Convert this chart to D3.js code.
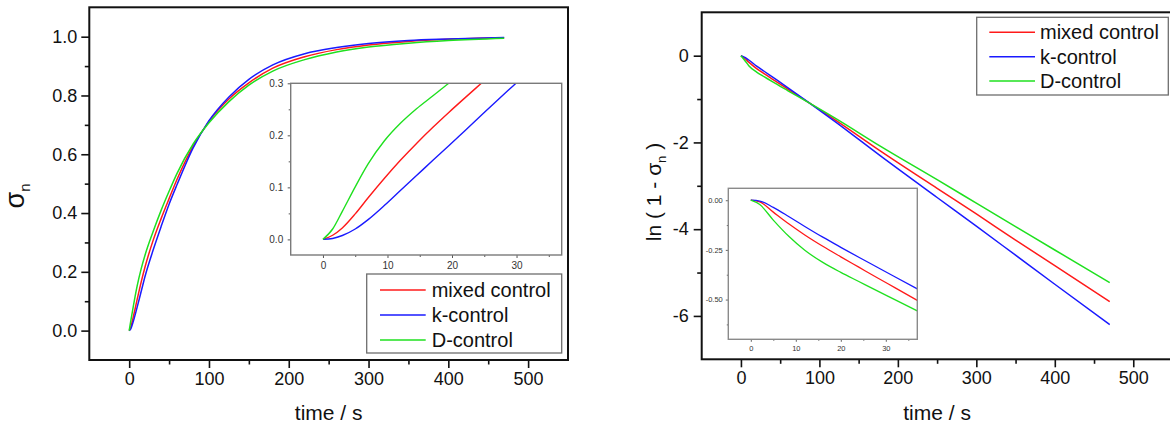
<!DOCTYPE html>
<html>
<head>
<meta charset="utf-8">
<script src="https://cdn.jsdelivr.net/npm/d3@7"></script>
<style>
  html, body { margin: 0; padding: 0; background: #fff; }
  svg { display: block; }
</style>
</head>
<body>
<svg id="chart" width="1170" height="425"></svg>
<script>
// ---- main curves: degree of conversion sigma_n versus time (s) ----
const mainTime   = [0, 2, 5, 10, 15, 20, 30, 40, 50, 60, 80, 100, 125, 150, 180, 220, 260, 300, 350, 400, 470];
const sigmaMixed = [0, 0.012, 0.045, 0.106, 0.165, 0.218, 0.307, 0.381, 0.449, 0.515, 0.627, 0.712, 0.788, 0.843, 0.893, 0.932, 0.956, 0.972, 0.984, 0.991, 0.996];
const sigmaK     = [0, 0.006, 0.03, 0.08, 0.133, 0.186, 0.274, 0.354, 0.43, 0.497, 0.621, 0.714, 0.795, 0.855, 0.904, 0.942, 0.963, 0.977, 0.987, 0.992, 0.997];
const sigmaD     = [0, 0.033, 0.08, 0.152, 0.21, 0.258, 0.337, 0.409, 0.474, 0.535, 0.634, 0.707, 0.779, 0.835, 0.883, 0.922, 0.948, 0.965, 0.978, 0.987, 0.995];

// ---- main curves: ln(1 - sigma_n) versus time (s) ----
const lnTime  = [0, 5, 10, 20, 30, 40, 60, 88, 120, 177, 250, 300, 350, 400, 470];
const lnMixed = [0, -0.065, -0.15, -0.3, -0.42, -0.54, -0.775, -1.1, -1.48, -2.19, -3.06, -3.65, -4.25, -4.84, -5.67];
const lnK     = [0, -0.038, -0.1, -0.239, -0.365, -0.49, -0.74, -1.1, -1.52, -2.30, -3.27, -3.93, -4.60, -5.27, -6.20];
const lnD     = [0, -0.11, -0.23, -0.38, -0.49, -0.6, -0.81, -1.1, -1.44, -2.08, -2.86, -3.40, -3.94, -4.48, -5.23];

// ---- early-time detail, sigma_n ----
const insetTime        = [0, 1.5, 3, 5, 7, 9.5, 12, 14.5, 17, 19.5, 22, 24.5, 27, 29.5, 32];
const insetSigmaMixed  = [0, 0.008, 0.022, 0.049, 0.080, 0.117, 0.152, 0.1845, 0.215, 0.244, 0.272, 0.2995, 0.327, null, null];
const insetSigmaK      = [0, 0.0018, 0.0075, 0.02, 0.038, 0.065, 0.094, 0.1227, 0.1515, 0.180, 0.209, 0.238, 0.267, 0.2955, 0.324];
const insetSigmaD      = [0, 0.02, 0.054, 0.101, 0.145, 0.189, 0.223, 0.251, 0.2755, 0.30, 0.3235, null, null, null, null];

// ---- early-time detail, ln(1 - sigma_n) ----
const insetLnTime  = [0, 2, 5, 8.5, 12, 16, 20, 24, 28, 32, 37];
const insetLnMixed = [0, -0.008, -0.06, -0.12, -0.175, -0.232, -0.285, -0.337, -0.389, -0.44, -0.504];
const insetLnK     = [0, -0.004, -0.036, -0.083, -0.132, -0.186, -0.237, -0.287, -0.336, -0.385, -0.446];
const insetLnD     = [0, -0.022, -0.10, -0.183, -0.252, -0.313, -0.363, -0.409, -0.455, -0.50, -0.557];

// ---- series names and tick labels ----
const seriesNames  = ["mixed control", "k-control", "D-control"];
const seriesColors = ["#ff1a1a", "#1a1aff", "#1fe01f"];

const timeTicks       = [0, 100, 200, 300, 400, 500];
const timeTickLabels  = ["0", "100", "200", "300", "400", "500"];
const timeMinor       = [50, 150, 250, 350, 450];
const sigmaTicks      = [0, 0.2, 0.4, 0.6, 0.8, 1.0];
const sigmaTickLabels = ["0.0", "0.2", "0.4", "0.6", "0.8", "1.0"];
const sigmaMinor      = [0.1, 0.3, 0.5, 0.7, 0.9];
const lnTicks         = [0, -2, -4, -6];
const lnTickLabels    = ["0", "-2", "-4", "-6"];
const lnMinor         = [-1, -3, -5];

const insetTimeTicks      = [0, 10, 20, 30];
const insetTimeLabels     = ["0", "10", "20", "30"];
const insetTimeMinor      = [5, 15, 25, 35];
const insetSigmaTicks     = [0, 0.1, 0.2, 0.3];
const insetSigmaLabels    = ["0.0", "0.1", "0.2", "0.3"];
const insetSigmaMinor     = [0.05, 0.15, 0.25];
const insetLnTicks        = [0, -0.25, -0.5];
const insetLnLabels       = ["0.00", "-0.25", "-0.50"];
const insetLnMinor        = [-0.125, -0.375, -0.625];

const FONT = "'Liberation Sans', Arial, Helvetica, sans-serif";
const svg = d3.select("#chart");

// Draws a pair of bottom/left axes with major+minor ticks.
function drawAxes(g, x, y, o) {
  const bottom = y.range()[0];
  const left = x.range()[0];
  const xa = g.append("g").attr("transform", `translate(0,${bottom})`)
    .call(d3.axisBottom(x).tickValues(o.xTicks).tickFormat((d, i) => o.xLabels[i])
      .tickSize(o.major).tickSizeOuter(0).tickPadding(o.xPad));
  const xm = g.append("g").attr("transform", `translate(0,${bottom})`)
    .call(d3.axisBottom(x).tickValues(o.xMinor).tickFormat("").tickSize(o.minor).tickSizeOuter(0));
  const ya = g.append("g").attr("transform", `translate(${left},0)`)
    .call(d3.axisLeft(y).tickValues(o.yTicks).tickFormat((d, i) => o.yLabels[i])
      .tickSize(o.major).tickSizeOuter(0).tickPadding(o.yPad));
  const ym = g.append("g").attr("transform", `translate(${left},0)`)
    .call(d3.axisLeft(y).tickValues(o.yMinor).tickFormat("").tickSize(o.minor).tickSizeOuter(0));
  [xa, xm, ya, ym].forEach(a => {
    a.select(".domain").remove();
    a.attr("font-family", FONT).attr("font-size", o.fontSize);
    a.selectAll("line").attr("stroke", o.stroke).attr("stroke-width", o.tickWidth);
    a.selectAll("text").attr("fill", o.textColor);
  });
}

function frame(g, x, y, stroke, width, fill) {
  const [x0, x1] = x.range();
  const [y0, y1] = y.range();
  g.append("rect")
    .attr("x", x0).attr("y", y1).attr("width", x1 - x0).attr("height", y0 - y1)
    .attr("fill", fill || "none").attr("stroke", stroke).attr("stroke-width", width);
}

function drawSeries(g, x, y, t, seriesList, clipId, width) {
  const line = d3.line()
    .defined(d => d[1] !== null)
    .x(d => x(d[0])).y(d => y(d[1]))
    .curve(d3.curveMonotoneX);
  const layer = g.append("g").attr("clip-path", clipId ? `url(#${clipId})` : null);
  seriesList.forEach((vals, i) => {
    layer.append("path")
      .datum(t.map((tt, j) => [tt, vals[j]]))
      .attr("d", line)
      .attr("fill", "none")
      .attr("stroke", seriesColors[i])
      .attr("stroke-width", width)
      .attr("stroke-linejoin", "round");
  });
}

function addClip(id, x, y) {
  const [x0, x1] = x.range();
  const [y0, y1] = y.range();
  svg.append("defs").append("clipPath").attr("id", id)
    .append("rect").attr("x", x0).attr("y", y1).attr("width", x1 - x0).attr("height", y0 - y1);
}

function drawLegend(g, box, lineX0, lineX1, textX, rows) {
  g.append("rect").attr("x", box[0]).attr("y", box[1]).attr("width", box[2]).attr("height", box[3])
    .attr("fill", "#fff").attr("stroke", "#6e6e6e").attr("stroke-width", 1.3);
  seriesNames.forEach((name, i) => {
    g.append("line").attr("x1", lineX0).attr("x2", lineX1).attr("y1", rows[i]).attr("y2", rows[i])
      .attr("stroke", seriesColors[i]).attr("stroke-width", 1.5);
    g.append("text").attr("x", textX).attr("y", rows[i]).attr("dy", "0.35em")
      .attr("font-family", FONT).attr("font-size", 20).attr("fill", "#111").text(name);
  });
}

const mainAxisStyle = { major: 8, minor: 4.5, xPad: 4, yPad: 4, fontSize: 18, stroke: "#111", tickWidth: 1.6, textColor: "#111" };

// ================= left panel: sigma_n =================
{
  const g = svg.append("g");
  const x = d3.scaleLinear().domain([-50, 550]).range([89.3, 568]);
  const y = d3.scaleLinear().domain([-0.1, 1.1]).range([360, 7.3]);
  addClip("clipL", x, y);
  drawAxes(g, x, y, Object.assign({}, mainAxisStyle, {
    xTicks: timeTicks, xLabels: timeTickLabels, xMinor: timeMinor,
    yTicks: sigmaTicks, yLabels: sigmaTickLabels, yMinor: sigmaMinor
  }));
  drawSeries(g, x, y, mainTime, [sigmaMixed, sigmaK, sigmaD], "clipL", 1.5);
  frame(g, x, y, "#111", 2);

  // inset: early times
  const xi = d3.scaleLinear().domain([-5, 37]).range([290.7, 561.7]);
  const yi = d3.scaleLinear().domain([-0.03, 0.3]).range([255, 83.3]);
  addClip("clipLi", xi, yi);
  frame(g, xi, yi, "none", 0, "#fff");
  drawAxes(g, xi, yi, {
    major: 3, minor: 2, xPad: 4, yPad: 4.5, fontSize: 10, stroke: "#555", tickWidth: 1, textColor: "#333",
    xTicks: insetTimeTicks, xLabels: insetTimeLabels, xMinor: insetTimeMinor,
    yTicks: insetSigmaTicks, yLabels: insetSigmaLabels, yMinor: insetSigmaMinor
  });
  drawSeries(g, xi, yi, insetTime, [insetSigmaMixed, insetSigmaK, insetSigmaD], "clipLi", 1.4);
  frame(g, xi, yi, "#7a7a7a", 1.4);

  drawLegend(g, [366.7, 274, 195, 79], 380, 425.7, 431.7, [290, 315, 340]);

  g.append("text").attr("x", (89.3 + 568) / 2).attr("y", 420).attr("text-anchor", "middle")
    .attr("font-family", FONT).attr("font-size", 21).attr("fill", "#111").text("time / s");

  const yl = g.append("text").attr("transform", "translate(24,196) rotate(-90)")
    .attr("text-anchor", "middle").attr("font-family", FONT).attr("fill", "#111");
  yl.append("tspan").attr("font-size", 27).text("σ");
  yl.append("tspan").attr("font-size", 15).attr("dy", 6).text("n");
}

// ================= right panel: ln(1 - sigma_n) =================
{
  const g = svg.append("g");
  const x = d3.scaleLinear().domain([-50, 550]).range([701.7, 1172.5]);
  const y = d3.scaleLinear().domain([-7, 1]).range([359.3, 12.3]);
  addClip("clipR", x, y);
  drawAxes(g, x, y, Object.assign({}, mainAxisStyle, {
    yPad: 5,
    xTicks: timeTicks, xLabels: timeTickLabels, xMinor: timeMinor,
    yTicks: lnTicks, yLabels: lnTickLabels, yMinor: lnMinor
  }));
  drawSeries(g, x, y, lnTime, [lnMixed, lnK, lnD], "clipR", 1.5);
  frame(g, x, y, "#111", 2);

  // inset: early times
  const xi = d3.scaleLinear().domain([-5, 37]).range([728.3, 917.3]);
  const yi = d3.scaleLinear().domain([-0.7, 0.06]).range([339.3, 188.3]);
  addClip("clipRi", xi, yi);
  frame(g, xi, yi, "none", 0, "#fff");
  drawAxes(g, xi, yi, {
    major: 2.5, minor: 1.5, xPad: 3.5, yPad: 3, fontSize: 7.5, stroke: "#555", tickWidth: 0.9, textColor: "#333",
    xTicks: insetTimeTicks, xLabels: insetTimeLabels, xMinor: insetTimeMinor,
    yTicks: insetLnTicks, yLabels: insetLnLabels, yMinor: insetLnMinor
  });
  drawSeries(g, xi, yi, insetLnTime, [insetLnMixed, insetLnK, insetLnD], "clipRi", 1.3);
  frame(g, xi, yi, "#8a8a8a", 1.4);

  drawLegend(g, [976.7, 17.3, 191.6, 77.7], 989.3, 1035, 1040, [32.3, 56.7, 81]);

  g.append("text").attr("x", (701.7 + 1172.5) / 2).attr("y", 420).attr("text-anchor", "middle")
    .attr("font-family", FONT).attr("font-size", 21).attr("fill", "#111").text("time / s");

  const yl = g.append("text").attr("transform", "translate(661,192) rotate(-90)")
    .attr("text-anchor", "middle").attr("font-family", FONT).attr("font-size", 21).attr("fill", "#111");
  yl.append("tspan").text("ln ( 1 - σ");
  yl.append("tspan").attr("font-size", 13).attr("dy", 5).text("n");
  yl.append("tspan").attr("dy", -5).text(" )");
}
</script>
</body>
</html>
